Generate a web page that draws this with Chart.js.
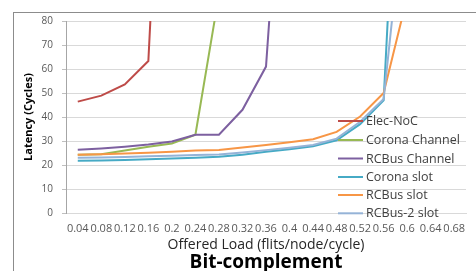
<!DOCTYPE html>
<html>
<head>
<meta charset="utf-8">
<script src="https://cdn.jsdelivr.net/npm/chart.js@4.4.1/dist/chart.umd.min.js"></script>
<style>
    body { margin: 0; background: #ffffff; }
    #marco { position: absolute; left: 13px; top: 12px; width: 480px; height: 280px; border: 1px solid #8c8c8c; }
    #myChart { position: absolute; left: 0; top: 0; }
</style>
</head>
<body>
<div id="marco"></div>
<canvas id="myChart" width="476" height="271"></canvas>
<script>
// Valores de carga ofrecida (eje X)
const cargas = ['0.04', '0.08', '0.12', '0.16', '0.2', '0.24', '0.28', '0.32', '0.36', '0.4', '0.44', '0.48', '0.52', '0.56', '0.6', '0.64', '0.68'];

// Latencias (ciclos)
const elecNoC = [46.4, 48.9, 53.6, 63.3, 260];
const coronaChannel = [24.3, 24.5, 26, 27.6, 29, 32.6, 91];
const rcbusChannel = [26.4, 26.9, 27.6, 28.5, 29.8, 32.6, 32.6, 43, 61, 200];
const coronaSlot = [21.8, 21.9, 22.1, 22.4, 22.7, 23, 23.4, 24.3, 25.5, 26.6, 27.8, 30.3, 37, 47, 240];
const rcbusSlot = [24.3, 24.5, 24.8, 25.1, 25.5, 26, 26.3, 27.3, 28.3, 29.5, 30.7, 33.8, 40.2, 50, 90];
const rcbus2Slot = [23, 23.1, 23.3, 23.6, 23.9, 24.2, 24.4, 25.2, 26.2, 27.2, 28.3, 31, 38, 47.5, 140];

// Nombres y colores de las series
const nombres = ['Elec-NoC', 'Corona Channel', 'RCBus Channel', 'Corona slot', 'RCBus slot', 'RCBus-2 slot'];
const colores = ['#be4b48', '#98b954', '#7d60a0', '#46aac5', '#f79646', '#95b3d7'];
const series = [elecNoC, coronaChannel, rcbusChannel, coronaSlot, rcbusSlot, rcbus2Slot];

const fuente = "'Open Sans', sans-serif";

// Leyenda dibujada dentro del área de la gráfica, como en el original
const leyendaPlugin = {
    id: 'leyendaInterna',
    afterDraw(chart) {
        const ctx = chart.ctx;
        const filas = [121, 140, 158.5, 177, 195, 213.3];
        ctx.save();
        ctx.font = '12.5px ' + fuente;
        ctx.textBaseline = 'middle';
        ctx.textAlign = 'left';
        for (let i = 0; i < nombres.length; i++) {
            ctx.strokeStyle = colores[i];
            ctx.lineWidth = 2;
            ctx.beginPath();
            ctx.moveTo(338, filas[i]);
            ctx.lineTo(363, filas[i]);
            ctx.stroke();
            ctx.fillStyle = '#404040';
            ctx.fillText(nombres[i], 366, filas[i] + 0.5);
        }
        ctx.restore();
    }
};

const datasets = series.map((datos, i) => ({
    label: nombres[i],
    data: datos,
    borderColor: colores[i],
    backgroundColor: colores[i],
    borderWidth: 2,
    pointRadius: 0,
    tension: 0,
    fill: false,
    order: -i // la última serie queda encima, como en Excel
}));

const ctx = document.getElementById('myChart').getContext('2d');
const myChart = new Chart(ctx, {
    type: 'line',
    data: { labels: cargas, datasets: datasets },
    options: {
        responsive: false,
        animation: false,
        devicePixelRatio: 1,
        layout: { padding: { left: 14, right: 10, top: 21, bottom: 0 } },
        plugins: {
            legend: { display: false },
            tooltip: { enabled: false },
            title: {
                display: true,
                position: 'bottom',
                fullSize: false,
                text: 'Bit-complement',
                color: '#000000',
                font: { family: fuente, size: 19, weight: 'bold', lineHeight: 1 },
                padding: { top: 0, bottom: -1 }
            }
        },
        scales: {
            x: {
                offset: true,
                grid: { display: false, drawTicks: false },
                border: { color: '#d9d9d9', width: 1 },
                ticks: {
                    autoSkip: false,
                    maxRotation: 0,
                    minRotation: 0,
                    padding: 9,
                    color: '#595959',
                    font: { family: fuente, size: 11 }
                },
                title: {
                    display: true,
                    text: 'Offered Load (flits/node/cycle)',
                    color: '#262626',
                    font: { family: fuente, size: 14, lineHeight: 1.2 },
                    padding: { top: 0, bottom: 0 }
                },
                afterFit(scale) { scale.height = 40; }
            },
            y: {
                min: 0,
                max: 80,
                grid: { color: '#d9d9d9', tickLength: 4, tickColor: '#bfbfbf' },
                border: { color: '#a6a6a6', width: 1 },
                ticks: {
                    stepSize: 10,
                    padding: 9,
                    color: '#595959',
                    font: { family: fuente, size: 10 }
                },
                title: {
                    display: true,
                    text: 'Latency (Cycles)',
                    color: '#000000',
                    font: { family: fuente, size: 11, weight: 'bold', lineHeight: 1.2 },
                    padding: { top: 8.4, bottom: 0 }
                },
                afterFit(scale) { scale.width = 52; }
            }
        }
    },
    plugins: [leyendaPlugin]
});
</script>
</body>
</html>
